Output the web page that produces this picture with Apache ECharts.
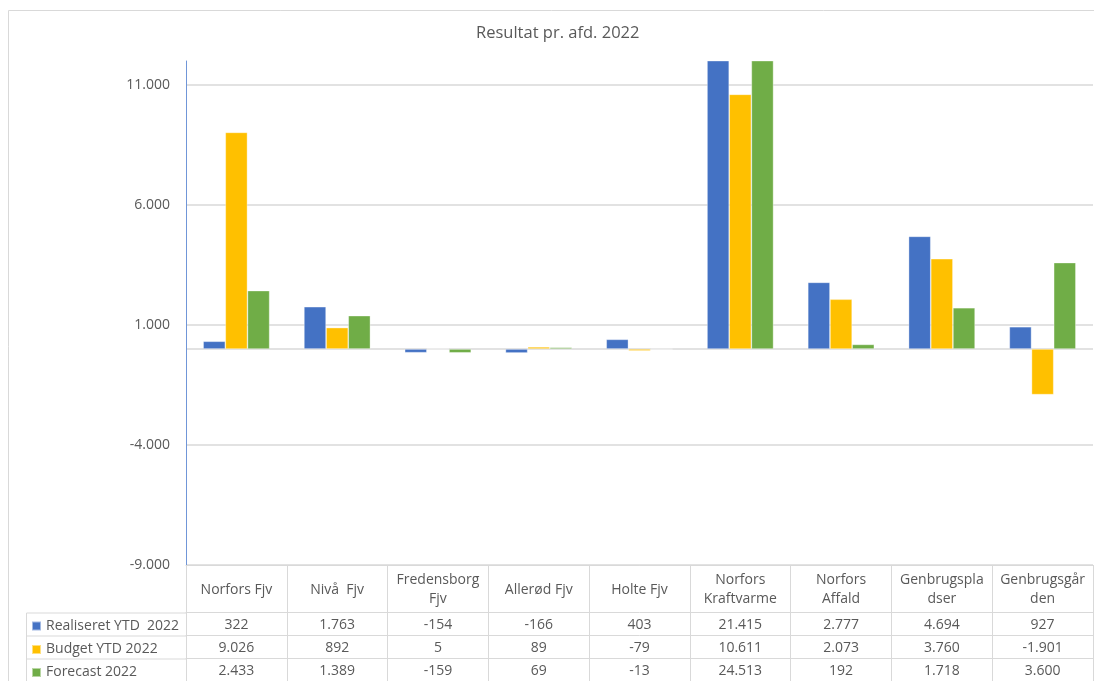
<!DOCTYPE html>
<html>
<head>
<meta charset="utf-8">
<script src="https://cdn.jsdelivr.net/npm/echarts@6/dist/echarts.min.js"></script>
<style>html,body{margin:0;padding:0;background:#fff}#c{width:1094px;height:681px}</style>
</head>
<body>
<div id="c"></div>
<script>
const categories = ['Norfors Fjv','Nivå  Fjv','Fredensborg\nFjv','Allerød Fjv','Holte Fjv','Norfors\nKraftvarme','Norfors\nAffald','Genbrugspla\ndser','Genbrugsgår\nden'];
const seriesNames = ['Realiseret YTD  2022','Budget YTD 2022','Forecast 2022'];
const realiseret = [322,1763,-154,-166,403,21415,2777,4694,927];
const budget = [9026,892,5,89,-79,10611,2073,3760,-1901];
const forecast = [2433,1389,-159,69,-13,24513,192,1718,3600];
const yTickLabels = [-9000,-4000,1000,6000,11000];
const yGridValues = [-9000,-4000,0,1000,6000,11000];
const colors = ['#4472C4','#FFC000','#70AD47'];
const seriesData = [realiseret, budget, forecast];

function fmt(v){
  const s = Math.abs(v).toString().replace(/\B(?=(\d{3})+(?!\d))/g,'.');
  return (v<0?'-':'') + s;
}
const FONT = 'Open Sans';
const TXT = '#595959';
const LINE = '#d9d9d9';

const xAxes = [{
  type:'category', data:categories, gridIndex:0, position:'bottom',
  axisLine:{show:true,onZero:false,lineStyle:{color:LINE}},
  axisTick:{show:true,alignWithLabel:false,length:47,lineStyle:{color:LINE}},
  axisLabel:{interval:0,margin:25,verticalAlign:'middle',lineHeight:19,color:TXT,fontSize:14,fontFamily:FONT}
}];
const offsets = [47,70,93];
seriesData.forEach((arr,k)=>{
  xAxes.push({
    type:'category', data:categories, gridIndex:0, position:'bottom', offset:offsets[k],
    axisLine:{show:true,onZero:false,lineStyle:{color:LINE}},
    axisTick:{show:true,alignWithLabel:false,length:k===2?24:23,lineStyle:{color:LINE}},
    axisLabel:{interval:0,margin:13,verticalAlign:'middle',color:TXT,fontSize:14,fontFamily:FONT,
      formatter:(val,idx)=>fmt(arr[idx])}
  });
});
const legendTops = [618,641.5,664.5];
const legends = seriesNames.map((n,k)=>({
  orient:'vertical',left:31,top:legendTops[k],padding:0,itemGap:0,itemWidth:9,itemHeight:9,icon:'rect',
  selectedMode:false,data:[n],textStyle:{color:TXT,fontSize:14,fontFamily:FONT,lineHeight:16}
}));

const chart = echarts.init(document.getElementById('c'));
chart.setOption({
  animation:false,
  title:{text:'Resultat pr. afd. 2022',left:471,top:20,textStyle:{color:TXT,fontSize:16.5,fontWeight:'normal',fontFamily:FONT}},
  legend:legends,
  grid:{left:186,right:1,top:61,bottom:116,containLabel:false},
  xAxis:xAxes,
  yAxis:{type:'value',min:-9000,max:12000,interval:5000,
    axisLine:{show:true,lineStyle:{color:'#7096d8'}},
    axisTick:{show:false,customValues:yGridValues},
    axisLabel:{customValues:yTickLabels,margin:16,color:TXT,fontSize:14,fontFamily:FONT,formatter:v=>fmt(v)},
    splitLine:{show:true,lineStyle:{color:LINE,width:1.5}}
  },
  series:seriesData.map((arr,k)=>({
    name:seriesNames[k],type:'bar',data:arr,xAxisIndex:0,clip:true,
    barGap:'0%',barCategoryGap:'34%',
    itemStyle:{color:colors[k],borderColor:'rgba(255,255,255,0.5)',borderWidth:0.7}
  })),
  graphic:[
    {type:'rect',shape:{x:8.5,y:10.5,width:1200,height:800},style:{fill:'none',stroke:LINE,lineWidth:1},z:-10,silent:true},
    {type:'line',shape:{x1:26.5,y1:613,x2:186,y2:613},style:{stroke:LINE,lineWidth:1},silent:true},
    {type:'line',shape:{x1:26.5,y1:636,x2:186,y2:636},style:{stroke:LINE,lineWidth:1},silent:true},
    {type:'line',shape:{x1:26.5,y1:659,x2:186,y2:659},style:{stroke:LINE,lineWidth:1},silent:true},
    {type:'line',shape:{x1:26.5,y1:613,x2:26.5,y2:690},style:{stroke:LINE,lineWidth:1},silent:true}
  ]
});
</script>
</body>
</html>
